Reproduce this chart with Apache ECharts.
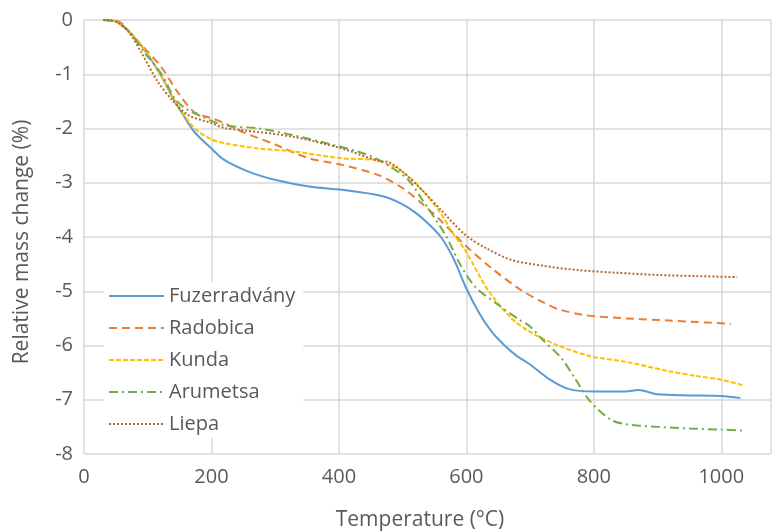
<!DOCTYPE html>
<html>
<head>
<meta charset="utf-8">
<script src="https://cdn.jsdelivr.net/npm/echarts@6/dist/echarts.min.js"></script>
<style>html,body{margin:0;padding:0;background:#fff}#c{width:774px;height:531px}</style>
</head>
<body>
<div id="c"></div>
<script>
const seriesNames = ['Fuzerradvány', 'Radobica', 'Kunda', 'Arumetsa', 'Liepa'];
const xTicks = [0, 200, 400, 600, 800, 1000];
const yTicks = [0, -1, -2, -3, -4, -5, -6, -7, -8];

const tFuz = [30, 50, 70, 95, 122, 140, 153, 173, 200, 220, 259, 301, 353, 405, 458, 478, 500, 520, 540, 560, 580, 600, 620, 640, 660, 680, 700, 730, 760, 800, 850, 870, 900, 950, 1000, 1030];
const vFuz = [0, -0.03, -0.2, -0.55, -1.05, -1.45, -1.7, -2.06, -2.37, -2.58, -2.8, -2.95, -3.07, -3.13, -3.22, -3.28, -3.4, -3.55, -3.75, -4.0, -4.4, -4.95, -5.4, -5.75, -6.0, -6.2, -6.35, -6.62, -6.8, -6.85, -6.85, -6.82, -6.9, -6.92, -6.93, -6.97];

const tRad = [30, 55, 75, 95, 122, 147, 173, 200, 220, 248, 301, 353, 405, 462, 500, 530, 560, 598, 640, 686, 720, 744, 786, 850, 900, 950, 1015];
const vRad = [0, -0.03, -0.28, -0.52, -0.88, -1.33, -1.7, -1.81, -1.9, -2.06, -2.3, -2.55, -2.67, -2.86, -3.1, -3.38, -3.7, -4.15, -4.58, -4.98, -5.2, -5.33, -5.44, -5.5, -5.53, -5.56, -5.6];

const tKun = [30, 50, 70, 95, 122, 147, 173, 200, 220, 275, 327, 405, 458, 478, 494, 520, 556, 580, 598, 634, 670, 700, 744, 795, 850, 916, 960, 1000, 1033];
const vKun = [0, -0.03, -0.2, -0.55, -1.05, -1.57, -1.99, -2.2, -2.27, -2.37, -2.42, -2.55, -2.58, -2.67, -2.75, -3.0, -3.5, -3.95, -4.24, -4.98, -5.49, -5.75, -6.0, -6.2, -6.3, -6.47, -6.56, -6.63, -6.73];

const tAru = [30, 50, 70, 95, 122, 142, 158, 185, 220, 275, 327, 380, 431, 458, 480, 509, 530, 567, 590, 614, 650, 681, 700, 720, 749, 770, 795, 827, 850, 900, 950, 1000, 1035];
const vAru = [0, -0.03, -0.2, -0.6, -1.0, -1.44, -1.62, -1.78, -1.94, -2.0, -2.12, -2.27, -2.43, -2.55, -2.7, -2.95, -3.3, -3.96, -4.5, -4.92, -5.25, -5.51, -5.65, -5.9, -6.23, -6.6, -7.04, -7.37, -7.45, -7.5, -7.53, -7.55, -7.57];

const tLie = [30, 50, 70, 90, 116, 138, 163, 200, 220, 248, 327, 405, 462, 478, 500, 530, 560, 598, 630, 670, 720, 775, 837, 900, 960, 1025];
const vLie = [0, -0.03, -0.22, -0.6, -1.14, -1.47, -1.75, -1.9, -1.99, -2.03, -2.15, -2.37, -2.6, -2.62, -2.8, -3.13, -3.5, -3.96, -4.2, -4.42, -4.53, -4.61, -4.66, -4.7, -4.72, -4.74];

const colors = ['#5B9BD5', '#ED7D31', '#FFC000', '#70AD47', '#B8652E'];
const dashes = ['solid', [8, 5], [5, 2], [9, 4, 2, 4], [2, 2]];
const temps = [tFuz, tRad, tKun, tAru, tLie];
const vals = [vFuz, vRad, vKun, vAru, vLie];

const zip = (a, b) => a.map((x, i) => [x, b[i]]);
const FONT = '"Open Sans", sans-serif';
const GREY = '#595959';

const chart = echarts.init(document.getElementById('c'), null, {renderer: 'canvas'});
chart.setOption({
  animation: false,
  backgroundColor: '#fff',
  grid: {left: 84, top: 20, width: 690, height: 434},
  xAxis: {
    type: 'value', min: xTicks[0], max: 1078, interval: 200,
    axisLine: {show: false}, axisTick: {show: false},
    splitLine: {show: true, lineStyle: {color: '#d9d9d9', width: 1.5}},
    axisLabel: {color: GREY, fontSize: 20, fontFamily: FONT, margin: 13,
      formatter: v => xTicks.includes(v) ? String(v) : ''}
  },
  yAxis: {
    type: 'value', min: -8, max: 0, interval: 1,
    axisLine: {show: false}, axisTick: {show: false},
    splitLine: {show: true, lineStyle: {color: '#d9d9d9', width: 1.5}},
    axisLabel: {color: GREY, fontSize: 20, fontFamily: FONT, margin: 11,
      formatter: v => yTicks.includes(v) ? String(v) : ''}
  },
  legend: {
    orient: 'vertical', left: 104, top: 282,
    backgroundColor: '#fff', padding: [4, 8, 4, 4],
    itemWidth: 55, itemHeight: 14, itemGap: 12,
    itemStyle: {opacity: 0},
    textStyle: {color: GREY, fontSize: 20, lineHeight: 20, fontFamily: FONT},
    data: seriesNames
  },
  graphic: [
    {type: 'text', x: 420, y: 520, style: {text: 'Temperature (°C)', fill: GREY, font: '21px ' + FONT, align: 'center', verticalAlign: 'middle'}},
    {type: 'text', x: 22, y: 242, rotation: Math.PI / 2, style: {text: 'Relative mass change (%)', fill: GREY, font: '21px ' + FONT, align: 'center', verticalAlign: 'middle'}}
  ],
  series: seriesNames.map((name, i) => ({
    name, type: 'line', showSymbol: false, symbol: 'none',
    smooth: 0.3,
    data: zip(temps[i], vals[i]),
    itemStyle: {color: colors[i]},
    lineStyle: {color: colors[i], width: 2, type: dashes[i]}
  }))
});
</script>
</body>
</html>
